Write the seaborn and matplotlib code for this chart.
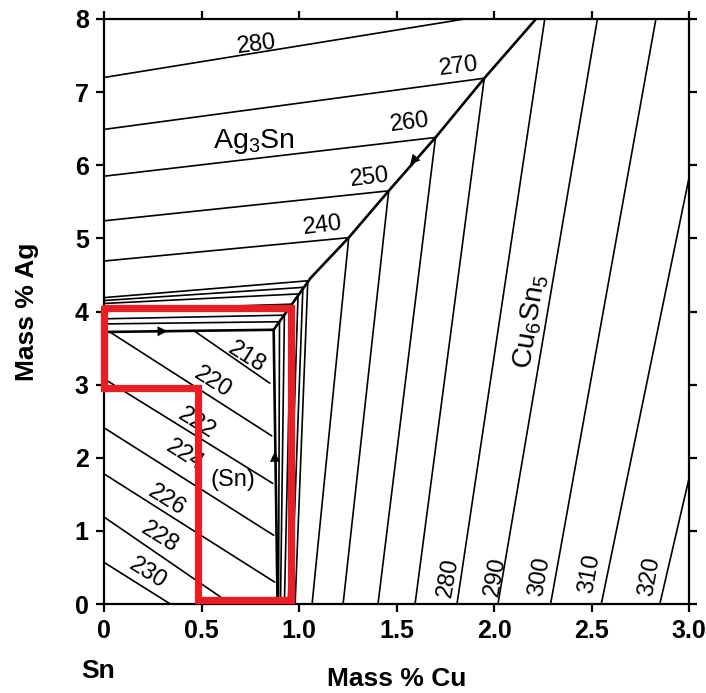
import matplotlib
matplotlib.use("Agg")
import matplotlib.pyplot as plt
import seaborn as sns
import pandas as pd

# ---------------- data ----------------
# Ag3Sn primary field isotherms: left edge -> univariant junction -> bottom (Cu6Sn5 field)
ag3sn_temps = [240, 250, 260, 270]
ag3sn_left_ag = [4.69, 5.24, 5.85, 6.49]
junction_cu = [1.255, 1.46, 1.70, 1.95]
junction_ag = [5.01, 5.65, 6.38, 7.19]
low_bottom_cu = [1.067, 1.226, 1.405, 1.595]

iso280_ag3sn_cu = [0.0, 1.85]
iso280_ag3sn_ag = [7.2, 8.0]

# Cu6Sn5 field isotherms
cu6sn5_temps = [280, 290, 300, 310, 320]
cu6sn5_bottom_cu = [1.81, 2.02, 2.29, 2.55, 2.85]
cu6sn5_end_cu = [2.26, 2.53, 2.83, 3.0, 3.0]
cu6sn5_end_ag = [8.0, 8.0, 8.0, 5.83, 1.72]

# (Sn) field isotherms
sn_temps = [218, 220, 222, 224, 226, 228, 230]
sn_start_cu = [0.46, 0.03, 0.0, 0.0, 0.0, 0.0, 0.0]
sn_start_ag = [3.74, 3.72, 3.08, 2.41, 1.78, 1.19, 0.57]
sn_end_cu = [0.85, 0.86, 0.865, 0.87, 0.875, 0.65, 0.34]
sn_end_ag = [3.02, 2.30, 1.65, 0.94, 0.30, 0.0, 0.0]

# closely spaced isotherms around the ternary eutectic
cluster_left_ag = [4.19, 4.15, 4.11, 4.02, 3.90, 3.83]
cluster_corner_cu = [1.045, 1.02, 0.995, 0.96, 0.925, 0.90]
cluster_corner_ag = [4.42, 4.33, 4.24, 4.10, 3.95, 3.86]
cluster_bottom_cu = [0.98, 0.96, 0.945, 0.925, 0.905, 0.895]

# univariant lines
uni_ag3sn_cu6sn5_cu = [0.87, 1.06, 1.255, 1.46, 1.70, 1.95, 2.215]
uni_ag3sn_cu6sn5_ag = [3.75, 4.46, 5.01, 5.65, 6.38, 7.19, 8.0]
uni_sn_ag3sn_cu = [0.0, 0.87]
uni_sn_ag3sn_ag = [3.72, 3.75]
uni_sn_cu6sn5_cu = [0.87, 0.89]
uni_sn_cu6sn5_ag = [3.75, 0.0]

# red highlight outline
red_cu = [0.0, 0.96, 0.96, 0.48, 0.48, 0.0, 0.0]
red_ag = [4.05, 4.05, 0.06, 0.06, 2.95, 2.95, 4.05]

# labels
ag3sn_label_text = ["280", "270", "260", "250", "240"]
ag3sn_label_cu = [0.785, 1.82, 1.57, 1.36, 1.12]
ag3sn_label_ag = [7.65, 7.35, 6.58, 5.83, 5.17]

cu_label_text = ["280", "290", "300", "310", "320"]
cu_label_cu = [1.765, 2.005, 2.235, 2.49, 2.80]
cu_label_ag = [0.36, 0.37, 0.37, 0.42, 0.37]

sn_label_text = ["218", "220", "222", "224", "226", "228", "230"]
sn_label_cu = [0.733, 0.56, 0.477, 0.415, 0.323, 0.287, 0.226]
sn_label_ag = [3.37, 3.03, 2.47, 2.03, 1.42, 0.91, 0.42]

x_ticks = [0, 0.5, 1.0, 1.5, 2.0, 2.5, 3.0]
x_ticklabels = ["0", "0.5", "1.0", "1.5", "2.0", "2.5", "3.0"]
y_ticks = [0, 1, 2, 3, 4, 5, 6, 7, 8]

# ---------------- build tables ----------------
rows = []
lid = 0
def add(xs, ys):
    global lid
    for i, (x, y) in enumerate(zip(xs, ys)):
        rows.append({"line": lid, "order": i, "cu": x, "ag": y})
    lid += 1

for la, jc, ja, bc in zip(ag3sn_left_ag, junction_cu, junction_ag, low_bottom_cu):
    add([0.0, jc, bc], [la, ja, 0.0])
add(iso280_ag3sn_cu, iso280_ag3sn_ag)
for bc, ec, ea in zip(cu6sn5_bottom_cu, cu6sn5_end_cu, cu6sn5_end_ag):
    add([bc, ec], [0.0, ea])
for sc, sa, ec, ea in zip(sn_start_cu, sn_start_ag, sn_end_cu, sn_end_ag):
    add([sc, ec], [sa, ea])
for la, cc, ca, bc in zip(cluster_left_ag, cluster_corner_cu, cluster_corner_ag, cluster_bottom_cu):
    add([0.0, cc, bc], [la, ca, 0.0])
iso = pd.DataFrame(rows)

rows = []
lid = 0
add(uni_ag3sn_cu6sn5_cu, uni_ag3sn_cu6sn5_ag)
add(uni_sn_ag3sn_cu, uni_sn_ag3sn_ag)
add(uni_sn_cu6sn5_cu, uni_sn_cu6sn5_ag)
uni = pd.DataFrame(rows)

red = pd.DataFrame({"cu": red_cu, "ag": red_ag, "line": 0})

# ---------------- plot ----------------
sns.set_theme(style="ticks")
plt.rcParams["font.family"] = ["Liberation Sans", "DejaVu Sans"]
plt.rcParams["mathtext.fontset"] = "custom"
plt.rcParams["mathtext.rm"] = "Liberation Sans"
plt.rcParams["mathtext.it"] = "Liberation Sans"
plt.rcParams["mathtext.default"] = "regular"
plt.rcParams["text.color"] = "black"
plt.rcParams["axes.labelcolor"] = "black"
plt.rcParams["xtick.color"] = "black"
plt.rcParams["ytick.color"] = "black"

fig = plt.figure(figsize=(7.06, 6.93), dpi=100)
ax = fig.add_axes([0.1473, 0.1284, 0.976 - 0.1473, 0.9726 - 0.1284])

sns.lineplot(data=iso, x="cu", y="ag", units="line", estimator=None, sort=False,
             color="black", linewidth=1.2, ax=ax, legend=False)
sns.lineplot(data=uni, x="cu", y="ag", units="line", estimator=None, sort=False,
             color="black", linewidth=1.9, ax=ax, legend=False)
sns.lineplot(data=red, x="cu", y="ag", units="line", estimator=None, sort=False,
             color="#ec1c24", linewidth=5.2, ax=ax, legend=False, zorder=6,
             clip_on=False, solid_joinstyle="miter")

# arrows on univariant lines (pointing toward the ternary eutectic)
arrow_kw = dict(arrowstyle="-|>", color="black", lw=0, mutation_scale=18)
ax.annotate("", xy=(0.34, 3.732), xytext=(0.24, 3.728), arrowprops=arrow_kw)
ax.annotate("", xy=(0.875, 2.12), xytext=(0.877, 1.88), arrowprops=arrow_kw)
ax.annotate("", xy=(1.56, 5.98), xytext=(1.625, 6.18), arrowprops=arrow_kw)

# isotherm labels
for t, x, y in zip(ag3sn_label_text, ag3sn_label_cu, ag3sn_label_ag):
    ax.text(x, y, t, fontsize=17, ha="center", va="center", rotation=7,
            rotation_mode="anchor")
for t, x, y in zip(cu_label_text, cu_label_cu, cu_label_ag):
    ax.text(x, y, t, fontsize=17, ha="center", va="center", rotation=80,
            rotation_mode="anchor")
for t, x, y in zip(sn_label_text, sn_label_cu, sn_label_ag):
    ax.text(x, y, t, fontsize=17, ha="center", va="center", rotation=-32,
            rotation_mode="anchor")

# phase labels
ax.text(0.77, 6.33, r"Ag$_3$Sn", fontsize=20.5, ha="center", va="center")
ax.text(2.19, 3.87, r"Cu$_6$Sn$_5$", fontsize=20.5, ha="center", va="center",
        rotation=81, rotation_mode="anchor")
ax.text(0.66, 1.69, "(Sn)", fontsize=17, ha="center", va="center")

# axes
ax.set_xlim(0, 3.0)
ax.set_ylim(0, 8)
ax.set_xticks(x_ticks)
ax.set_xticklabels(x_ticklabels)
ax.set_yticks(y_ticks)
for lab in ax.get_xticklabels() + ax.get_yticklabels():
    lab.set_fontweight("bold")
    lab.set_fontsize(18)
ax.tick_params(direction="out", length=6, width=1.6, top=True, right=True,
               labeltop=False, labelright=False, pad=5, colors="black")
for sp in ax.spines.values():
    sp.set_visible(True)
    sp.set_linewidth(1.6)
    sp.set_color("black")
ax.set_xlabel("Mass % Cu", fontsize=19, fontweight="bold", labelpad=17)
ax.set_ylabel("Mass % Ag", fontsize=19, fontweight="bold", labelpad=26)
ax.text(-0.03, -0.92, "Sn", fontsize=19, fontweight="bold", ha="center",
        va="center", clip_on=False)

fig.savefig("out.png", dpi=100, facecolor="white")
